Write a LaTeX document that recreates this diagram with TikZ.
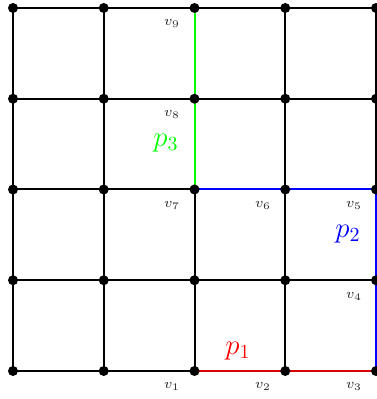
\documentclass[tikz,border=0pt]{standalone}
\begin{document}
\begin{tikzpicture}[x=0.5pt,y=-0.5pt,
  gridline/.style={line width=1pt,black},
  pathline/.style={line width=1pt},
  dot/.style={circle,fill=black,inner sep=0pt,minimum size=5pt},
  vlab/.style={font=\scriptsize,text=black!85},
  plab/.style={font=\Large}]
\useasboundingbox (0,0) rectangle (376,399);
% grid coordinates
\foreach \i in {0,...,4}{
  \foreach \j in {0,...,4}{
    \coordinate (g\i\j) at ({13+\i*90.75},{371-\j*90.75});
  }
}
% grid lines
\foreach \j in {0,...,4}{
  \draw[gridline] (g0\j) -- (g4\j);
}
\foreach \i in {0,...,4}{
  \draw[gridline] (g\i0) -- (g\i4);
}
% coloured paths
\draw[pathline,green] (g22) -- (g24);
\draw[pathline,blue] (g22) -- (g42) -- (g40);
\draw[pathline,red!85!black] (g20) -- (g40);
% dots
\foreach \i in {0,...,4}{
  \foreach \j in {0,...,4}{
    \node[dot] (d\i\j) at (g\i\j) {};
  }
}
% vertex labels
\node[vlab] (v1) at (172,386) {$v_1$};
\node[vlab] (v2) at (263,386) {$v_2$};
\node[vlab] (v3) at (354,386) {$v_3$};
\node[vlab] (v4) at (354,296) {$v_4$};
\node[vlab] (v5) at (354,205) {$v_5$};
\node[vlab] (v6) at (263,205) {$v_6$};
\node[vlab] (v7) at (172,205) {$v_7$};
\node[vlab] (v8) at (172,114) {$v_8$};
\node[vlab] (v9) at (172,23) {$v_9$};
% path labels
\node[plab,text=red] (p1) at (238,351) {$p_1$};
\node[plab,text=blue] (p2) at (348,234) {$p_2$};
\node[plab,text=green] (p3) at (166,143) {$p_3$};
\end{tikzpicture}
\end{document}
